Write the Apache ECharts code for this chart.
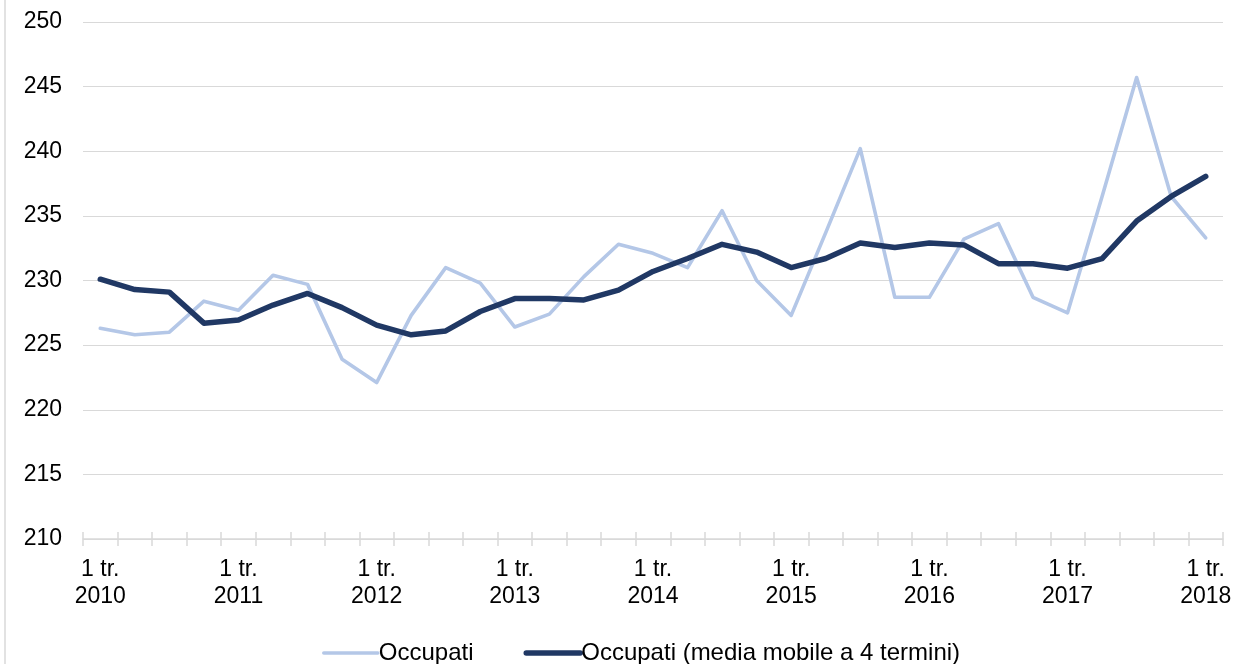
<!DOCTYPE html>
<html>
<head>
<meta charset="utf-8">
<script src="https://cdn.jsdelivr.net/npm/echarts@6/dist/echarts.min.js"></script>
<style>
  html, body { margin: 0; padding: 0; background: #fff; }
  #chart { width: 1236px; height: 664px; }
</style>
</head>
<body>
<div id="chart"></div>
<script>
const years = [2010, 2011, 2012, 2013, 2014, 2015, 2016, 2017, 2018];
const categories = [];
years.forEach(function (y) {
  for (let q = 1; q <= 4; q++) {
    if (y === 2018 && q > 1) break;
    categories.push(q + ' tr. ' + y);
  }
});

const occupati = [
  226.3, 225.8, 226.0, 228.4, 227.7, 230.4, 229.7, 223.9,
  222.1, 227.3, 231.0, 229.8, 226.4, 227.4, 230.3, 232.8,
  232.1, 231.0, 235.4, 230.0, 227.3, 233.7, 240.2, 228.7,
  228.7, 233.2, 234.4, 228.7, 227.5, 236.5, 245.7, 236.5,
  233.3
];
const mediaMobile = [
  230.1, 229.3, 229.1, 226.7, 226.95, 228.1, 229.0, 227.9,
  226.55, 225.8, 226.1, 227.6, 228.6, 228.6, 228.5, 229.25,
  230.7, 231.7, 232.8, 232.2, 231.0, 231.7, 232.9, 232.55,
  232.9, 232.75, 231.3, 231.3, 230.95, 231.7, 234.6, 236.5,
  238.05
];
const seriesNames = ['Occupati', 'Occupati (media mobile a 4 termini)'];
const yMin = 210, yMax = 250, yStep = 5;

const FONT = '"Liberation Sans", Arial, sans-serif';
const LIGHT = '#B4C7E7', DARK = '#203864';
const chart = echarts.init(document.getElementById('chart'), null, { renderer: 'canvas' });

const labelFmt = function (v) { return v.replace(/ (\d{4})$/, '\n$1'); };

chart.setOption({
  animation: false,
  backgroundColor: '#ffffff',
  textStyle: { fontFamily: FONT },
  grid: { left: 83, right: 13, top: 22, bottom: 125, containLabel: false },
  legend: {
    left: 317,
    top: 636,
    itemWidth: 54,
    itemHeight: 14,
    itemGap: 50,
    itemStyle: { opacity: 0 },
    textStyle: { fontFamily: FONT, fontSize: 24, color: '#000', padding: [0, 0, 0, -4] },
    data: [
      { name: seriesNames[0], itemStyle: { opacity: 0 }, lineStyle: { width: 3.6, color: LIGHT, cap: 'round' } },
      { name: seriesNames[1], itemStyle: { opacity: 0 }, lineStyle: { width: 5.5, color: DARK, cap: 'round' } }
    ]
  },
  xAxis: [{
    type: 'category',
    data: categories,
    boundaryGap: true,
    axisLine: { show: true, lineStyle: { color: '#D9D9D9', width: 1.5 } },
    axisTick: { show: true, interval: 0, length: 7, lineStyle: { color: '#D9D9D9', width: 1.5 } },
    axisLabel: {
      interval: 3,
      formatter: labelFmt,
      fontFamily: FONT, fontSize: 23, color: '#000', lineHeight: 27, margin: 17
    },
    splitLine: { show: false }
  }, {
    type: 'category',
    data: categories,
    position: 'bottom',
    boundaryGap: true,
    axisLine: { show: false },
    axisTick: { show: true, inside: true, interval: 0, length: 7, lineStyle: { color: '#D9D9D9', width: 1.5 } },
    axisLabel: { show: false },
    splitLine: { show: false }
  }],
  yAxis: {
    type: 'value',
    min: yMin, max: yMax, interval: yStep,
    axisLine: { show: false },
    axisTick: { show: false },
    axisLabel: { fontFamily: FONT, fontSize: 23, color: '#000', margin: 21 },
    splitLine: { show: true, lineStyle: { color: '#D9D9D9', width: 1.2 } }
  },
  series: [{
    name: seriesNames[0],
    type: 'line',
    data: occupati,
    symbol: 'none',
    lineStyle: { color: LIGHT, width: 3.6, cap: 'round', join: 'round' },
    itemStyle: { color: LIGHT },
    z: 2
  }, {
    name: seriesNames[1],
    type: 'line',
    data: mediaMobile,
    symbol: 'none',
    lineStyle: { color: DARK, width: 5.5, cap: 'round', join: 'round' },
    itemStyle: { color: DARK },
    z: 3
  }],
  graphic: [{
    type: 'line',
    shape: { x1: 5, y1: 0, x2: 5, y2: 664 },
    style: { stroke: '#D9D9D9', lineWidth: 1.5 },
    silent: true
  }]
});
</script>
</body>
</html>
